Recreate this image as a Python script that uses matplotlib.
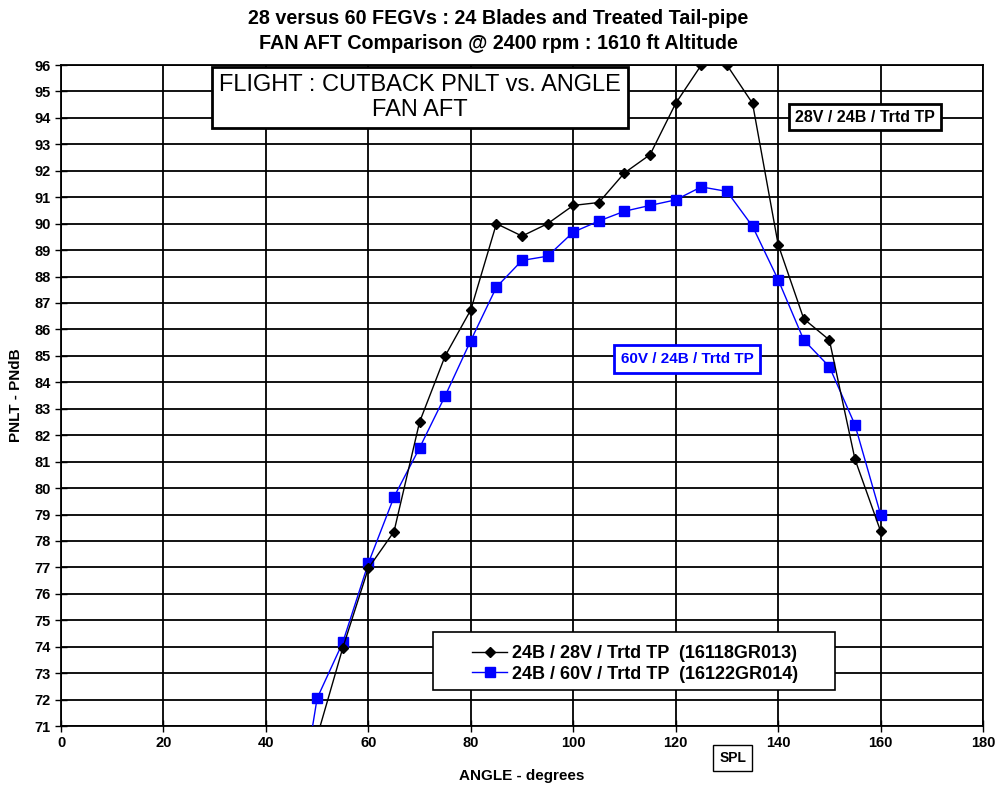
import matplotlib.pyplot as plt
from matplotlib.patches import Rectangle
import numpy as np

plt.rcParams['font.family'] = ['Liberation Sans', 'DejaVu Sans']

# --- data ---
angle_28v = [50, 55, 60, 65, 70, 75, 80, 85, 90, 95, 100, 105, 110, 115,
             120, 125, 130, 135, 140, 145, 150, 155, 160]
pnlt_28v = [70.6, 73.95, 76.97, 78.35, 82.5, 85.0, 86.74, 90.0, 89.53, 90.0,
            90.69, 90.8, 91.92, 92.61, 94.55, 96.0, 96.0, 94.55, 89.21, 86.4,
            85.6, 81.09, 78.37]

angle_60v = [45, 50, 55, 60, 65, 70, 75, 80, 85, 90, 95, 100, 105, 110, 115,
             120, 125, 130, 135, 140, 145, 150, 155, 160]
pnlt_60v = [66.1, 72.05, 74.16, 77.16, 79.66, 81.52, 83.49, 85.58, 87.6, 88.61,
            88.77, 89.68, 90.1, 90.47, 90.69, 90.9, 91.39, 91.22, 89.9, 87.88,
            85.6, 84.59, 82.39, 79.0]

label_28v = "24B / 28V / Trtd TP  (16118GR013)"
label_60v = "24B / 60V / Trtd TP  (16122GR014)"

fig = plt.figure(figsize=(9.97, 7.89), dpi=100)
ax = fig.add_axes([0.0612, 0.0798, 0.9248, 0.8378])

ax.plot(angle_28v, pnlt_28v, color='black', lw=1.0, marker='D', ms=5,
        label=label_28v, zorder=4)
ax.plot(angle_60v, pnlt_60v, color='#0000FF', lw=1.0, marker='s', ms=7,
        label=label_60v, zorder=3)

ax.set_xlim(0, 180)
ax.set_ylim(71, 96)
ax.set_xticks(np.arange(0, 181, 20))
ax.set_yticks(np.arange(71, 97, 1))
ax.grid(True, color='black', lw=1.3, zorder=1)
ax.set_axisbelow(True)
for sp in ax.spines.values():
    sp.set_linewidth(1.3)
ax.tick_params(axis='both', direction='inout', length=8, width=1.0,
               labelsize=10.5)
for lbl in ax.get_xticklabels() + ax.get_yticklabels():
    lbl.set_fontweight('bold')

ax.set_xlabel("ANGLE - degrees", fontsize=11, fontweight='bold', labelpad=13)
ax.set_ylabel("PNLT - PNdB", fontsize=11, fontweight='bold', labelpad=8)

fig.text(0.5, 0.988, "28 versus 60 FEGVs : 24 Blades and Treated Tail-pipe\n"
         "FAN AFT Comparison @ 2400 rpm : 1610 ft Altitude",
         ha='center', va='top', fontsize=14.2, fontweight='bold',
         linespacing=1.4)

# text boxes
ax.text(0.389, 0.951, "FLIGHT : CUTBACK PNLT vs. ANGLE\nFAN AFT",
        transform=ax.transAxes, ha='center', va='center', fontsize=17,
        linespacing=1.2,
        bbox=dict(boxstyle='square,pad=0.3', fc='white', ec='black', lw=2))
ax.text(0.872, 0.921, "28V / 24B / Trtd TP", transform=ax.transAxes,
        ha='center', va='center', fontsize=11.5, fontweight='bold',
        bbox=dict(boxstyle='square,pad=0.35', fc='white', ec='black', lw=2))
ax.text(0.679, 0.555, "60V / 24B / Trtd TP", transform=ax.transAxes,
        ha='center', va='center', fontsize=11, fontweight='bold',
        color='#0000FF',
        bbox=dict(boxstyle='square,pad=0.45', fc='white', ec='#0000FF', lw=2))
fig.text(0.735, 0.039, "SPL", ha='center', va='center', fontsize=10,
         fontweight='bold',
         bbox=dict(boxstyle='square,pad=0.45', fc='white', ec='black', lw=1))

# legend: separate frame, legend itself without frame
ax.add_patch(Rectangle((0.4035, 0.054), 0.436, 0.088, transform=ax.transAxes,
                       fc='white', ec='black', lw=1.2, zorder=5))
leg = ax.legend(loc='upper left', bbox_to_anchor=(0.446, 0.122),
                borderaxespad=0, borderpad=0, frameon=False,
                prop={'size': 13, 'weight': 'bold'},
                handlelength=1.95, handletextpad=0.25, labelspacing=0.18)
leg.set_zorder(6)

fig.savefig("out.png", dpi=100)
